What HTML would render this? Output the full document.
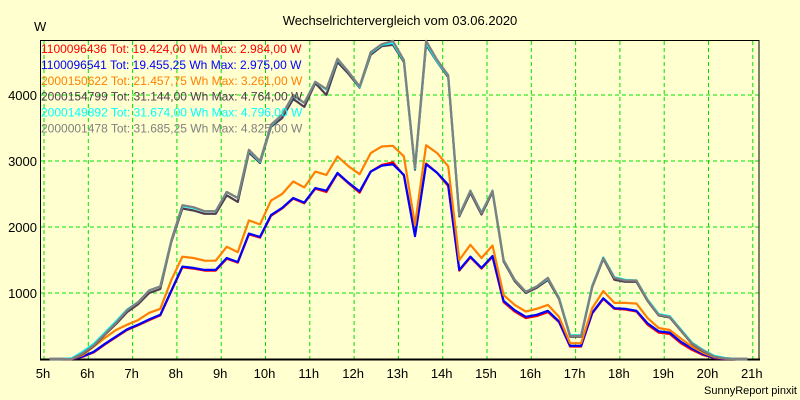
<!DOCTYPE html>
<html><head><meta charset="utf-8"><style>
html,body{margin:0;padding:0;background:#ffffd0;}
svg{display:block;font-family:"Liberation Sans",Arial,sans-serif;}
</style></head><body>
<svg id="chart" width="800" height="400" viewBox="0 0 800 400" xmlns="http://www.w3.org/2000/svg">
<rect x="0" y="0" width="800" height="400" fill="#ffffd0"/>
<text x="400" y="25" font-size="13" text-anchor="middle" fill="#000">Wechselrichtervergleich vom 03.06.2020</text>
<text x="34" y="31" font-size="13" fill="#000">W</text>
<g id="grid"></g>
<g id="axes"></g>
<g id="series"></g>
<g id="legend"></g>
<text x="797" y="394" font-size="11" text-anchor="end" fill="#000">SunnyReport pinxit</text>
</svg>
<script>
const hourTicks = [5,6,7,8,9,10,11,12,13,14,15,16,17,18,19,20,21];
const yTicks = [1000,2000,3000,4000];
const seriesNames = ["1100096436","1100096541","2000150622","2000154799","2000149892","2000001478"];
const seriesTotals = ["19.424,00","19.455,25","21.457,75","31.144,00","31.674,00","31.685,25"];
const seriesMax = ["2.984,00","2.975,00","3.261,00","4.764,00","4.796,00","4.825,00"];
const seriesColors = ["#ff0000","#0000ff","#ff8000","#503c50","#00ffff","#808080"];
// 15-minute samples starting 5:07
const red = [0,0,0,35,100,220,330,440,510,590,660,1030,1390,1370,1340,1340,1520,1460,1890,1840,2170,2280,2430,2360,2580,2530,2810,2660,2520,2840,2940,2980,2780,1880,2960,2820,2620,1340,1540,1370,1550,860,720,620,650,710,560,190,190,690,910,760,750,720,520,400,380,240,140,60,15,0,0,0];
const blue = [0,0,0,40,110,230,340,450,520,600,670,1040,1400,1380,1350,1350,1530,1470,1900,1850,2180,2290,2440,2370,2590,2550,2820,2670,2540,2840,2930,2950,2790,1860,2950,2820,2640,1350,1550,1380,1560,880,740,640,670,730,570,200,200,700,920,770,760,730,540,420,400,260,160,75,20,0,0,0];
const orange = [0,0,0,60,190,320,440,520,590,700,760,1200,1550,1530,1490,1490,1700,1620,2100,2040,2400,2500,2690,2600,2840,2790,3070,2920,2800,3120,3220,3230,3070,2030,3240,3120,2920,1500,1730,1530,1720,970,820,720,760,820,640,240,240,770,1030,850,850,840,620,470,440,310,190,95,30,5,0,0];
const dark = [0,0,0,80,200,370,530,710,830,1000,1060,1780,2280,2250,2200,2200,2480,2380,3130,2970,3520,3650,3940,3820,4180,4000,4500,4320,4110,4610,4740,4760,4500,2870,4760,4500,4270,2160,2520,2190,2530,1480,1180,1000,1080,1200,910,340,340,1090,1520,1200,1170,1170,880,660,630,430,230,120,40,10,0,0];
const cyan = [0,0,10,110,230,400,570,750,860,1040,1100,1800,2320,2290,2240,2240,2530,2440,3160,2990,3540,3700,3990,3880,4200,4080,4540,4350,4120,4640,4760,4790,4520,2890,4790,4510,4290,2180,2550,2220,2550,1500,1200,1020,1100,1220,930,360,360,1110,1540,1240,1200,1190,900,680,650,450,250,140,50,15,0,0];
const gray = [0,0,0,90,210,380,550,740,860,1040,1100,1800,2330,2300,2240,2240,2530,2440,3170,3000,3550,3700,4000,3880,4200,4090,4550,4350,4130,4650,4770,4820,4530,2900,4820,4530,4300,2180,2550,2210,2550,1500,1200,1020,1100,1230,920,350,350,1100,1530,1230,1190,1190,890,670,640,440,240,130,40,10,0,0];
const allSeries = [red, blue, orange, dark, cyan, gray];
const seriesKeys = ["red","blue","orange","dark","cyan","gray"];

const NS = "http://www.w3.org/2000/svg";
const X0 = 44, PX_PER_H = 44.3, Y0 = 359, PX_PER_W = 0.066;
function xH(h){ return X0 + (h-5)*PX_PER_H; }
function xIdx(i){ return xH(5 + (i+0.5)*0.25); }
function yV(v){ return Y0 - v*PX_PER_W; }
function mk(tag, attrs){ const e=document.createElementNS(NS,tag); for(const k in attrs) e.setAttribute(k,attrs[k]); return e; }

const grid = document.getElementById('grid');
hourTicks.forEach(h=>{
  if(h===21) return;
  const l = mk('line',{x1:xH(h),x2:xH(h),y1:41,y2:Y0,stroke:'#00e000','stroke-width':1,'stroke-dasharray':'4,3'});
  
  
  grid.appendChild(l);
});
{
  const l = mk('line',{x1:xH(21),x2:xH(21),y1:41,y2:Y0,stroke:'#00e000','stroke-width':1,'stroke-dasharray':'4,3'});
  
  
  grid.appendChild(l);
}
yTicks.forEach(v=>{
  const l = mk('line',{x1:41,x2:759,y1:yV(v),y2:yV(v),stroke:'#00e000','stroke-width':1,'stroke-dasharray':'4,3'});
  
  
  grid.appendChild(l);
});

const axes = document.getElementById('axes');
const frame = mk('rect',{x:40.5,y:40.5,width:718.5,height:319,fill:'none',stroke:'#000','stroke-width':1});


axes.appendChild(frame);
const bottom = mk('line',{x1:40,x2:760,y1:359.5,y2:359.5,stroke:'#000','stroke-width':2});


axes.appendChild(bottom);
yTicks.forEach(v=>{
  const t = mk('text',{x:37,y:yV(v)+5,'font-size':13,'text-anchor':'end',fill:'#000'});
  t.textContent = String(v);
  
  
  axes.appendChild(t);
});
hourTicks.forEach(h=>{
  const t = mk('text',{x:xH(h)-1,y:378,'font-size':13,'text-anchor':'middle',fill:'#000'});
  t.textContent = h+'h';
  
  
  axes.appendChild(t);
});

const sg = document.getElementById('series');
allSeries.forEach((arr,si)=>{
  const pts = arr.map((v,i)=>xIdx(i).toFixed(1)+','+yV(v).toFixed(1)).join(' ');
  const p = mk('polyline',{points:pts,fill:'none',stroke:seriesColors[si],'stroke-width':2.2,'stroke-linejoin':'round'});
  
  
  sg.appendChild(p);
});

const lg = document.getElementById('legend');
seriesNames.forEach((n,i)=>{
  const t = mk('text',{x:41,y:53+i*15.9,'font-size':12,fill:seriesColors[i]});
  t.textContent = n+' Tot: '+seriesTotals[i]+' Wh Max: '+seriesMax[i]+' W';
  
  
  lg.appendChild(t);
});
</script>
</body></html>
